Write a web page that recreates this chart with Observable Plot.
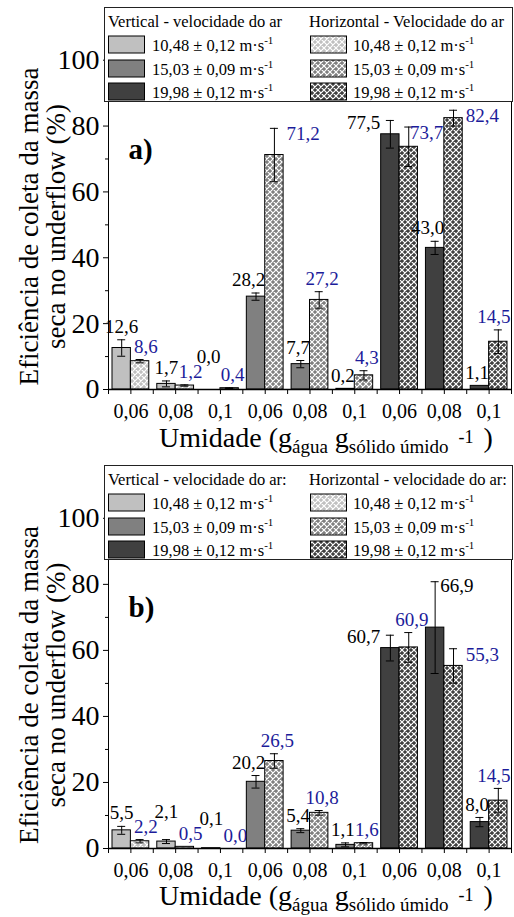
<!DOCTYPE html>
<html lang="pt">
<head>
<meta charset="utf-8">
<script src="https://cdn.jsdelivr.net/npm/d3@7"></script>
<script src="https://cdn.jsdelivr.net/npm/@observablehq/plot@0.6"></script>
<style>
  html, body { margin: 0; padding: 0; background: #fff; }
  #chart { width: 514px; }
  #chart svg { display: block; }
</style>
</head>
<body>
<div id="chart"></div>
<script>
// ---------------- data ----------------
const moisture = ["0,06", "0,08", "0,1"];
const speedLabels = ["10,48 ± 0,12", "15,03 ± 0,09", "19,98 ± 0,12"];
const unitText = " m·s";
const unitExp = "-1";
const panelLetters = ["a)", "b)"];
const legendHeadersA = ["Vertical - velocidade do ar", "Horizontal - Velocidade do ar"];
const legendHeadersB = ["Vertical - velocidade do ar:", "Horizontal - velocidade do ar:"];
const yTitleLines = ["Eficiência de coleta da massa", "seca no underflow (%)"];
const xTitleParts = ["Umidade (g", "água", " g", "sólido úmido", "-1", ")"];

const aVertical      = [12.6, 1.7, 0.0, 28.2, 7.7, 0.2, 77.5, 43.0, 1.1];
const aVerticalErr   = [2.5, 0.9, 0.0, 1.1, 1.1, 0.1, 4.2, 2.0, 0.0];
const aHorizontal    = [8.6, 1.2, 0.4, 71.2, 27.2, 4.3, 73.7, 82.4, 14.5];
const aHorizontalErr = [0.5, 0.2, 0.1, 8.1, 2.5, 1.4, 6.0, 2.4, 3.6];

const bVertical      = [5.5, 2.1, 0.1, 20.2, 5.4, 1.1, 60.7, 66.9, 8.0];
const bVerticalErr   = [1.2, 0.6, 0.0, 1.9, 0.6, 0.6, 3.9, 13.9, 1.4];
const bHorizontal    = [2.2, 0.5, 0.0, 26.5, 10.8, 1.6, 60.9, 55.3, 14.5];
const bHorizontalErr = [0.5, 0.0, 0.0, 2.2, 0.7, 0.2, 4.5, 5.2, 3.7];

// ---------------- style ----------------
const FONT = '"Liberation Serif", serif';
const speedColors = ["#c0c0c0", "#808080", "#404040"];
const blue = "#1c1c9a";
const LABEL_SIZE = 19;

function makePanel({id, vertical, verticalErr, horizontal, horizontalErr, letter, headers, height}) {
  const W = 514, ML = 108, MR = 3, MT = 7, MB = 69, YMAX = 116;
  const n = vertical.length;
  const bw = (W - ML - MR) / n;
  const half = bw / 2, pad = 4, cap = 4;
  const off = (half - pad) / 2;          // bar centre offset from band centre
  const innerH = height - MT - MB;
  const k = innerH / YMAX;               // px per unit (for label layout only)
  const fmt = v => v.toFixed(1).replace(".", ",");
  const textW = s => [...s].reduce((a, c) => a + (c === "," ? 0.25 : 0.5), 0) * LABEL_SIZE;

  const rows = vertical.map((v, g) => {
    const ev = verticalErr[g], h = horizontal[g], eh = horizontalErr[g];
    return {g, speed: Math.floor(g / 3), v, ev, h, eh, topV: v + ev, topH: h + eh};
  });
  const groups = rows.map(d => d.g);
  const vErr = rows.filter(d => d.ev > 0);
  const hErr = rows.filter(d => d.eh > 0);

  // ---- value-label placement (offsets in px relative to the band centre / bar top) ----
  const labels = [];
  rows.forEach((r, g) => {
    const {topV, topH} = r;
    const tv = fmt(r.v), th = fmt(r.h), wv = textW(tv), wh = textW(th);
    let V, H;
    if (topV > 78) V = topH > topV - 10
      ? {dx: -(half - pad) - 1, dy: 2, anchor: "end"}
      : {dx: -off + cap + 1, dy: 4, anchor: "start"};
    else if (topV > 20 && Math.abs(topV - topH) < 6) V = {dx: -(half - pad) - 1, dy: 2, anchor: "end"};
    else if (topH > topV) V = {dx: 0, dy: -13, anchor: "end"};
    else V = {dx: -off, dy: -13, anchor: "middle"};

    if (topH > 78 || (topV > 20 && topV - 7 > topH)) {
      let dx = half - pad + 3;
      const nx = rows[g + 1];
      if (nx) {
        if (nx.topV > topH - 3) dx = Math.min(dx, half + pad - wh - 1);
        else if (nx.topH > topH - 3) dx = Math.min(dx, 2 * half - wh - 1);
      }
      H = {dx, dy: 6, anchor: "start"};
    } else if (topV > topH) H = {dx: 3, dy: -13, anchor: "start"};
    else if (g === n - 1) H = {dx: half - 1, dy: -13, anchor: "end"};
    else H = {dx: off + 3, dy: -13, anchor: "middle"};

    labels.push({g, top: topV, text: tv, w: wv, fill: "#000", ...V});
    labels.push({g, top: topH, text: th, w: wh, fill: blue, ...H});
  });
  // simple collision pass: lift a label above any earlier one it would hit
  labels.forEach(l => {
    const cx = ML + bw * (l.g + 0.5) + l.dx;
    l.x0 = l.anchor === "start" ? cx : l.anchor === "end" ? cx - l.w : cx - l.w / 2;
    l.x1 = l.x0 + l.w;
    l.yc = MT + innerH - l.top * k + l.dy;
  });
  const placed = [];
  [...labels].sort((a, b) => a.x0 - b.x0).forEach(l => {
    for (let iter = 0; iter < 6; iter++) {
      const hit = placed.find(p => Math.min(l.x1, p.x1) - Math.max(l.x0, p.x0) > 3 && Math.abs(l.yc - p.yc) < 15);
      if (!hit) break;
      const ny = hit.yc - 15;
      l.dy += ny - l.yc;
      l.yc = ny;
    }
    placed.push(l);
  });
  const labelMarks = labels.map(l => Plot.text([l], {
    x: "g", y: "top", text: "text", dx: l.dx, dy: l.dy, textAnchor: l.anchor,
    fill: l.fill, fontSize: LABEL_SIZE
  }));

  const el = Plot.plot({
    width: W, height,
    marginLeft: ML, marginRight: MR, marginTop: MT, marginBottom: MB,
    x: {type: "band", domain: groups, padding: 0, round: false},
    y: {domain: [0, YMAX]},
    color: {type: "identity"},
    style: {fontFamily: FONT, fontSize: "19px", background: "#fff", color: "#000", overflow: "visible"},
    marks: [
      Plot.barY(rows, {x: "g", y1: 0, y2: "v", fill: d => speedColors[d.speed],
        stroke: "#000", strokeWidth: 1, insetLeft: pad, insetRight: half}),
      Plot.barY(rows, {x: "g", y1: 0, y2: "h", fill: d => `url(#${id}-hatch-${d.speed})`,
        stroke: "#000", strokeWidth: 1, insetLeft: half, insetRight: pad}),
      // error bars (vertical series)
      Plot.ruleX(vErr, {x: "g", y1: d => d.v - d.ev, y2: d => d.v + d.ev, dx: -off, stroke: "#000"}),
      Plot.tickY(vErr, {x: "g", y: d => d.v + d.ev, insetLeft: half - off - cap, insetRight: half + off - cap, stroke: "#000"}),
      Plot.tickY(vErr, {x: "g", y: d => d.v - d.ev, insetLeft: half - off - cap, insetRight: half + off - cap, stroke: "#000"}),
      // error bars (horizontal series)
      Plot.ruleX(hErr, {x: "g", y1: d => d.h - d.eh, y2: d => d.h + d.eh, dx: off, stroke: "#000"}),
      Plot.tickY(hErr, {x: "g", y: d => d.h + d.eh, insetLeft: half + off - cap, insetRight: half - off - cap, stroke: "#000"}),
      Plot.tickY(hErr, {x: "g", y: d => d.h - d.eh, insetLeft: half + off - cap, insetRight: half - off - cap, stroke: "#000"}),
      // value labels
      ...labelMarks,
      // axes
      Plot.frame({stroke: "#000", strokeWidth: 1}),
      Plot.ruleY([0], {stroke: "#000", strokeWidth: 1.5}),
      Plot.axisY({ticks: d3.range(0, 101, 20), tickSize: 5, tickPadding: 4, fontSize: 28, label: null}),
      Plot.axisY({ticks: d3.range(10, 111, 20), tickSize: 3, tickFormat: () => "", label: null}),
      Plot.axisX({tickSize: 5, tickPadding: 9, fontSize: 20, tickFormat: g => moisture[g % 3], label: null}),
      Plot.ruleX(groups, {x: d => d, dx: -half, insetTop: innerH, insetBottom: -5, stroke: "#000"}),
      Plot.ruleX(groups.slice(-1), {x: d => d, dx: half, insetTop: innerH, insetBottom: -5, stroke: "#000"}),
      // titles
      Plot.text([yTitleLines[0]], {text: d => d, frameAnchor: "left", textAnchor: "middle", rotate: -90, dx: -79, dy: 28, fontSize: 27}),
      Plot.text([yTitleLines[1]], {text: d => d, frameAnchor: "left", textAnchor: "middle", rotate: -90, dx: -52, dy: 28, fontSize: 27}),
      Plot.text([letter], {text: d => d, frameAnchor: "top-left", textAnchor: "start", dx: 20, dy: 131, fontSize: 29, fontWeight: "bold"})
    ]
  });

  const svg = d3.select(el);
  // hatch patterns
  const defs = svg.insert("defs", ":first-child");
  speedColors.forEach((c, i) => {
    const p = defs.append("pattern").attr("id", `${id}-hatch-${i}`)
      .attr("patternUnits", "userSpaceOnUse").attr("width", 6).attr("height", 6);
    p.append("rect").attr("width", 6).attr("height", 6).attr("fill", c);
    p.append("path").attr("d", "M0,0L6,6M6,0L0,6M-1,1L1,-1M5,7L7,5M-1,5L1,7M5,-1L7,1")
      .attr("stroke", "#fff").attr("stroke-width", 1.2);
  });

  // legend
  const LX = 104.5, LY = 7.5, LW = 408, LH = 94;
  const lg = svg.append("g").attr("font-family", FONT).attr("font-size", 16.5)
    .attr("fill", "#000").attr("text-anchor", "start");
  lg.append("rect").attr("x", LX).attr("y", LY).attr("width", LW).attr("height", LH)
    .attr("fill", "#fff").attr("stroke", "#222").attr("stroke-width", 1);
  const colX = [108, 309];
  headers.forEach((h, j) => lg.append("text").attr("x", colX[j]).attr("y", LY + 19.5).text(h));
  const rowC = [37, 61, 84];
  speedLabels.forEach((lab, i) => {
    const cy = LY + rowC[i];
    [0, 1].forEach(j => {
      lg.append("rect").attr("x", colX[j] + (j ? 1.5 : 0.5)).attr("y", cy - 8.5).attr("width", 36).attr("height", 17)
        .attr("fill", j ? `url(#${id}-hatch-${i})` : speedColors[i]).attr("stroke", "#000").attr("stroke-width", 1);
      const t = lg.append("text").attr("x", colX[j] + 44).attr("y", cy + 6);
      t.append("tspan").text(lab + unitText);
      t.append("tspan").attr("font-size", 11).attr("dy", -7).text(unitExp);
    });
  });

  // x title with sub/superscripts
  const xt = svg.append("text").attr("x", 159).attr("y", 447).attr("text-anchor", "start")
    .attr("font-family", FONT).attr("font-size", 28).attr("fill", "#000");
  xt.append("tspan").text(xTitleParts[0]);
  xt.append("tspan").attr("font-size", 19).attr("dy", 6).text(xTitleParts[1]);
  xt.append("tspan").attr("dy", -6).text(xTitleParts[2]);
  xt.append("tspan").attr("font-size", 19).attr("dy", 6).text(xTitleParts[3]);
  xt.append("tspan").attr("font-size", 18).attr("dx", 10).attr("dy", -10).text(xTitleParts[4]);
  xt.append("tspan").attr("dx", 10).attr("dy", 4).text(xTitleParts[5]);

  return el;
}

const chart = document.getElementById("chart");
chart.appendChild(makePanel({id: "pa", vertical: aVertical, verticalErr: aVerticalErr,
  horizontal: aHorizontal, horizontalErr: aHorizontalErr, letter: panelLetters[0],
  headers: legendHeadersA, height: 458}));
chart.appendChild(makePanel({id: "pb", vertical: bVertical, verticalErr: bVerticalErr,
  horizontal: bHorizontal, horizontalErr: bHorizontalErr, letter: panelLetters[1],
  headers: legendHeadersB, height: 459}));
</script>
</body>
</html>
